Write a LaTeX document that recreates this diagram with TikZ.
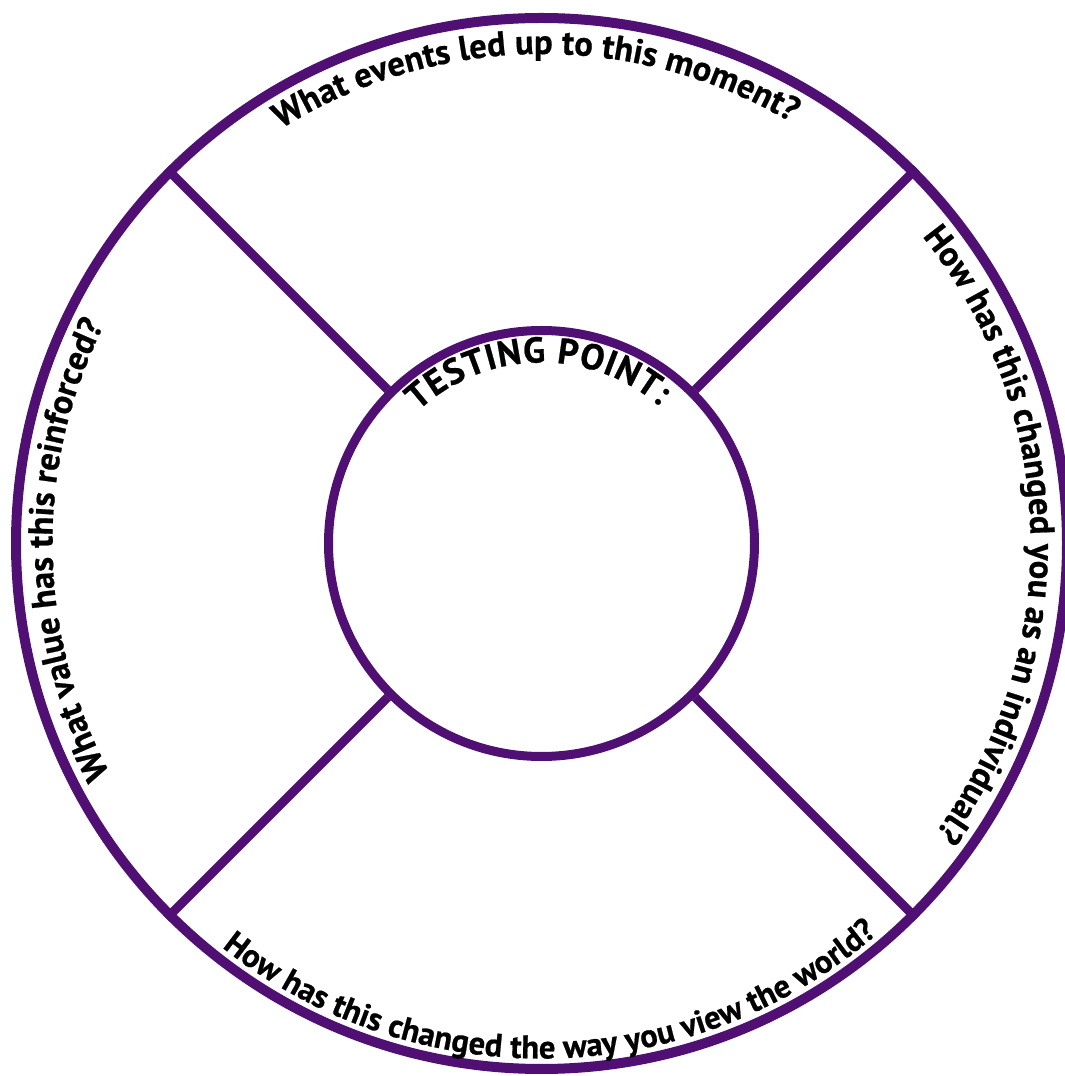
\documentclass[tikz,border=0pt]{standalone}
\usepackage{fontspec}
\setmainfont{PT Sans}[BoldFeatures={FakeBold=0.6}]
\usetikzlibrary{decorations.text}
\definecolor{ringpurple}{RGB}{80,16,115}
\newcommand{\qfont}{\bfseries\fontsize{26}{30}\selectfont}
\newcommand{\bfont}{\bfseries\fontsize{24.5}{29}\selectfont}
\newcommand{\tfont}{\bfseries\fontsize{27}{31}\selectfont}
\begin{document}
\begin{tikzpicture}[x=0.75pt,y=0.75pt,
  ring/.style={circle, draw=ringpurple, inner sep=0pt},
  spoke/.style={draw=ringpurple, line width=6.75pt},
  arctext/.style 2 args={decorate, decoration={text along path, text align=center, text={|#1|#2}}},
  fittext/.style 2 args={decorate, decoration={text along path, text align=fit to path, text={|#1|#2}}}]
\useasboundingbox (0,0) rectangle (1065,1076);
\coordinate (C) at (541.5,532.5);
\node[ring, line width=7.5pt, minimum size=788.25pt] (outer) at (C) {};
\node[ring, line width=6.75pt, minimum size=319.5pt] (inner) at (C) {};
\foreach \a in {45,135,225,315} \draw[spoke] (outer.\a) -- (inner.\a);
% top
\path[arctext={\qfont}{What events led up to this moment?}]
  ([shift={(150:489.5)}]C) arc[start angle=150, end angle=31.5, radius=489.5];
% right
\path[arctext={\qfont}{How has this changed you as an individual?}]
  ([shift={(60:489)}]C) arc[start angle=60, end angle=-57.5, radius=489];
% left
\path[arctext={\qfont}{What value has this reinforced?}]
  ([shift={(240.8:489)}]C) arc[start angle=240.8, end angle=120.8, radius=489];
% bottom
\path[arctext={\bfont}{How has this changed the way you view the world?}]
  ([shift={(216.2:515)}]C) arc[start angle=216.2, end angle=326.2, radius=515];
% inner
\path[fittext={\tfont}{TESTING POINT:}]
  ([shift={(133:181)}]C) arc[start angle=133, end angle=49.5, radius=181];
\end{tikzpicture}
\end{document}
